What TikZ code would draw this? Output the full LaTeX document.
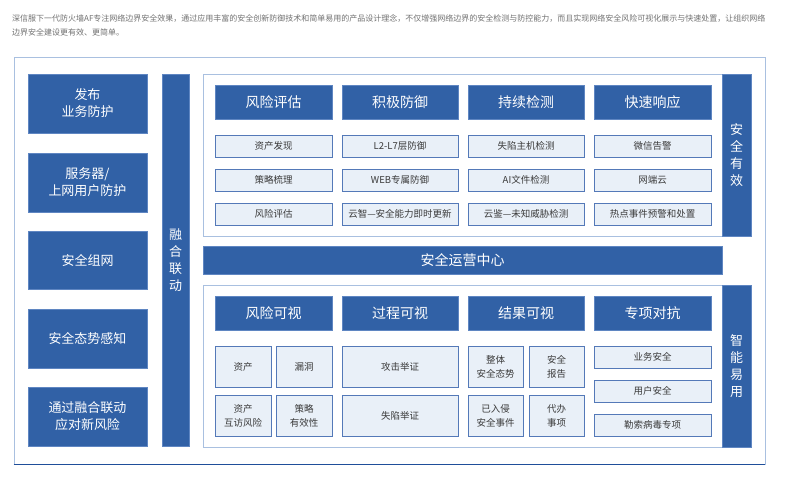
\documentclass[tikz,border=0pt]{standalone}
\usepackage{fontspec}
\setmainfont{Noto Sans CJK SC}
\definecolor{dblue}{HTML}{3161A6}
\definecolor{dedge}{HTML}{5F86C2}
\definecolor{lfill}{HTML}{E9F0F8}
\definecolor{ledge}{HTML}{5479B8}
\definecolor{pedge}{HTML}{A9C0E0}
\definecolor{fline}{HTML}{1F4E9A}
\definecolor{tgray}{HTML}{3A3A3A}
\definecolor{dgray}{HTML}{707070}
\newcommand\mybox[7]{\node[#2, anchor=center, minimum width={(#5-#3)*1pt}, minimum height={(#6-#4)*1pt}] (#1) at ({(#3+#5)/2},{(#4+#6)/2}) {#7};}
\begin{document}
\begin{tikzpicture}[x=1pt,y=-1pt,
  darkbox/.style={fill=dblue, draw=dedge, line width=0.6pt, text=white, inner sep=0pt, align=center},
  leftbox/.style={darkbox, font=\fontsize{13}{17}\selectfont},
  headbox/.style={darkbox, font=\fontsize{14}{18}\selectfont},
  sidebar/.style={darkbox, font=\fontsize{13}{17}\selectfont},
  smallbox/.style={fill=lfill, draw=ledge, line width=0.8pt, text=tgray, inner sep=0pt, align=center, font=\fontsize{9.5}{14}\selectfont},
  panel/.style={fill=white, draw=pedge, line width=0.8pt, inner sep=0pt},
  desc/.style={text=dgray, anchor=west, inner sep=0pt, font=\fontsize{8.0}{10}\selectfont}
]
\useasboundingbox (0,0) rectangle (785,480);
% description
\node[desc] (d1) at (12,18) {深信服下一代防火墙AF专注网络边界安全效果，通过应用丰富的安全创新防御技术和简单易用的产品设计理念，不仅增强网络边界的安全检测与防控能力，而且实现网络安全风险可视化展示与快速处置，让组织网络};
\node[desc] (d2) at (12,32) {边界安全建设更有效、更简单。};
% frame
\mybox{frame}{panel}{14}{57}{765}{464}{}
\draw[fline, line width=1pt] (frame.south west) -- (frame.south east);
% left column
\mybox{l1}{leftbox}{28}{74}{147}{133}{发布\\业务防护}
\mybox{l2}{leftbox}{28}{153}{147}{212}{服务器/\\上网用户防护}
\mybox{l3}{leftbox}{28}{231}{147}{289}{安全组网}
\mybox{l4}{leftbox}{28}{309}{147}{368}{安全态势感知}
\mybox{l5}{leftbox}{28}{387}{147}{446}{通过融合联动\\应对新风险}
\mybox{rh}{sidebar}{162}{74}{189}{446}{融\\合\\联\\动}
% top panel
\mybox{tp}{panel}{203}{74}{722}{236}{}
\mybox{ts}{sidebar}{722}{74}{751}{236}{安\\全\\有\\效}
\mybox{th1}{headbox}{215}{85}{332}{119}{风险评估}
\mybox{th2}{headbox}{342}{85}{458}{119}{积极防御}
\mybox{th3}{headbox}{468}{85}{584}{119}{持续检测}
\mybox{th4}{headbox}{594}{85}{711}{119}{快速响应}
\mybox{a11}{smallbox}{215}{135}{332}{157}{资产发现}
\mybox{a12}{smallbox}{215}{169}{332}{191}{策略梳理}
\mybox{a13}{smallbox}{215}{203}{332}{225}{风险评估}
\mybox{a21}{smallbox}{342}{135}{458}{157}{L2-L7层防御}
\mybox{a22}{smallbox}{342}{169}{458}{191}{WEB专属防御}
\mybox{a23}{smallbox}{342}{203}{458}{225}{云智—安全能力即时更新}
\mybox{a31}{smallbox}{468}{135}{584}{157}{失陷主机检测}
\mybox{a32}{smallbox}{468}{169}{584}{191}{AI文件检测}
\mybox{a33}{smallbox}{468}{203}{584}{225}{云鉴—未知威胁检测}
\mybox{a41}{smallbox}{594}{135}{711}{157}{微信告警}
\mybox{a42}{smallbox}{594}{169}{711}{191}{网端云}
\mybox{a43}{smallbox}{594}{203}{711}{225}{热点事件预警和处置}
% middle bar
\mybox{soc}{headbox}{203}{246}{722}{274}{安全运营中心}
% bottom panel
\mybox{bp}{panel}{203}{285}{722}{447}{}
\mybox{bs}{sidebar}{722}{285}{751}{447}{智\\能\\易\\用}
\mybox{bh1}{headbox}{215}{296}{332}{330}{风险可视}
\mybox{bh2}{headbox}{342}{296}{458}{330}{过程可视}
\mybox{bh3}{headbox}{468}{296}{584}{330}{结果可视}
\mybox{bh4}{headbox}{594}{296}{711}{330}{专项对抗}
\mybox{b11}{smallbox}{215}{346}{271}{387}{资产}
\mybox{b12}{smallbox}{276}{346}{332}{387}{漏洞}
\mybox{b13}{smallbox}{215}{395}{271}{436}{资产\\互访风险}
\mybox{b14}{smallbox}{276}{395}{332}{436}{策略\\有效性}
\mybox{b21}{smallbox}{342}{346}{458}{387}{攻击举证}
\mybox{b22}{smallbox}{342}{395}{458}{436}{失陷举证}
\mybox{b31}{smallbox}{468}{346}{523}{387}{整体\\安全态势}
\mybox{b32}{smallbox}{529}{346}{584}{387}{安全\\报告}
\mybox{b33}{smallbox}{468}{395}{523}{436}{已入侵\\安全事件}
\mybox{b34}{smallbox}{529}{395}{584}{436}{代办\\事项}
\mybox{b41}{smallbox}{594}{346}{711}{368}{业务安全}
\mybox{b42}{smallbox}{594}{380}{711}{402}{用户安全}
\mybox{b43}{smallbox}{594}{414}{711}{436}{勒索病毒专项}
\end{tikzpicture}
\end{document}
